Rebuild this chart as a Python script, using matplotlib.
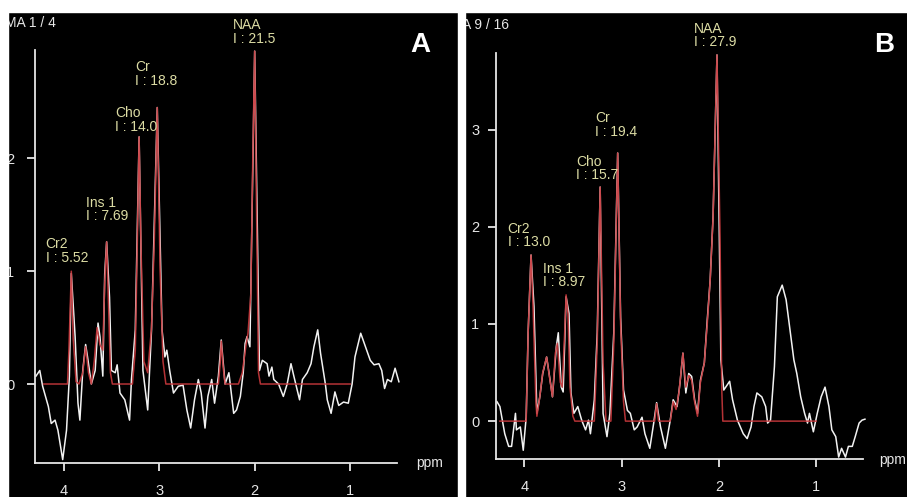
import matplotlib
matplotlib.use("Agg")
from matplotlib import pyplot as plt
from matplotlib.patches import Rectangle

plt.rcParams['font.family'] = ['Liberation Sans', 'DejaVu Sans']

# ---- panel A data (ppm, intensity) ----
a_ppm = [4.29, 4.25, 4.22, 4.16, 4.13, 4.09, 4.06, 4.01, 3.97, 3.94, 3.92, 3.88, 3.85, 3.83, 3.80,
         3.77, 3.75, 3.71, 3.67, 3.64, 3.62, 3.59, 3.57, 3.55, 3.52, 3.50, 3.46, 3.44, 3.41, 3.36,
         3.31, 3.29, 3.25, 3.21, 3.17, 3.12, 3.08, 3.02, 2.97, 2.94, 2.92, 2.89, 2.85, 2.80, 2.75,
         2.71, 2.67, 2.63, 2.59, 2.56, 2.52, 2.49, 2.45, 2.42, 2.38, 2.35, 2.31, 2.27, 2.22, 2.19,
         2.15, 2.12, 2.10, 2.08, 2.05, 2.00, 1.95, 1.92, 1.87, 1.85, 1.82, 1.80, 1.75, 1.70, 1.66,
         1.62, 1.59, 1.53, 1.50, 1.45, 1.41, 1.38, 1.34, 1.31, 1.26, 1.24, 1.20, 1.16, 1.12, 1.07,
         1.02, 0.98, 0.95, 0.89, 0.84, 0.79, 0.75, 0.70, 0.67, 0.64, 0.61, 0.57, 0.53, 0.49]
a_obs = [0.07, 0.12, -0.02, -0.20, -0.35, -0.32, -0.41, -0.67, -0.41, 0.07, 0.98, 0.42, -0.17, -0.32, 0.12,
         0.35, 0.24, 0.0, 0.12, 0.54, 0.42, 0.07, 0.98, 1.26, 0.77, 0.12, 0.10, 0.17, -0.08, -0.14,
         -0.32, 0.04, 0.48, 2.19, 0.12, -0.23, 0.48, 2.45, 0.48, 0.24, 0.30, 0.12, -0.08, -0.02, -0.01,
         -0.23, -0.39, -0.14, 0.04, -0.08, -0.39, -0.11, 0.04, -0.17, 0.07, 0.39, 0.0, 0.10, -0.26, -0.23,
         -0.11, 0.10, 0.36, 0.42, 0.33, 2.95, 0.12, 0.21, 0.18, 0.07, 0.15, 0.04, 0.0, -0.11, 0.0,
         0.18, 0.07, -0.14, 0.04, 0.10, 0.18, 0.33, 0.48, 0.27, 0.0, -0.14, -0.26, -0.07, -0.19, -0.16,
         -0.17, 0.0, 0.24, 0.45, 0.33, 0.21, 0.17, 0.18, 0.12, -0.04, 0.04, 0.02, 0.14, 0.02]
a_fit_ppm = [4.21, 3.96, 3.945, 3.92, 3.90, 3.87, 3.84, 3.80, 3.77, 3.74, 3.71, 3.68, 3.65, 3.62, 3.59,
             3.57, 3.55, 3.53, 3.51, 3.49, 3.28, 3.25, 3.23, 3.21, 3.19, 3.16, 3.12, 3.08, 3.05, 3.02,
             2.99, 2.96, 2.93, 2.38, 2.36, 2.35, 2.33, 2.31, 2.17, 2.13, 2.09, 2.07, 2.04, 2.02, 2.00,
             1.98, 1.96, 1.94, 1.00]
a_fit = [0.0, 0.0, 0.3, 1.0, 0.4, 0.02, 0.0, 0.1, 0.33, 0.1, 0.0, 0.2, 0.5, 0.35, 0.3,
         0.9, 1.26, 0.7, 0.1, 0.0, 0.0, 0.3, 1.2, 2.19, 1.2, 0.2, 0.1, 0.5, 1.3, 2.45,
         1.0, 0.2, 0.0, 0.0, 0.2, 0.38, 0.15, 0.0, 0.0, 0.1, 0.35, 0.45, 0.8, 2.0, 2.95,
         1.5, 0.1, 0.0, 0.0]

# ---- panel B data ----
b_ppm = [4.28, 4.25, 4.20, 4.16, 4.13, 4.09, 4.08, 4.04, 4.01, 3.98, 3.96, 3.93, 3.90, 3.87, 3.84,
         3.81, 3.77, 3.74, 3.71, 3.67, 3.65, 3.62, 3.60, 3.57, 3.54, 3.52, 3.49, 3.45, 3.41, 3.37,
         3.34, 3.32, 3.28, 3.25, 3.22, 3.19, 3.15, 3.12, 3.08, 3.04, 3.01, 2.98, 2.94, 2.91, 2.87,
         2.84, 2.79, 2.76, 2.71, 2.67, 2.64, 2.60, 2.55, 2.50, 2.47, 2.43, 2.40, 2.37, 2.34, 2.31,
         2.28, 2.25, 2.22, 2.19, 2.15, 2.12, 2.09, 2.06, 2.02, 1.98, 1.95, 1.93, 1.89, 1.86, 1.81,
         1.75, 1.71, 1.67, 1.64, 1.61, 1.56, 1.52, 1.50, 1.47, 1.43, 1.40, 1.35, 1.31, 1.27, 1.23,
         1.20, 1.16, 1.12, 1.09, 1.07, 1.03, 0.99, 0.95, 0.91, 0.87, 0.84, 0.80, 0.77, 0.74, 0.70,
         0.67, 0.63, 0.60, 0.56, 0.53, 0.50]
b_obs = [0.20, 0.15, -0.13, -0.26, -0.26, 0.08, -0.09, -0.06, -0.30, 0.04, 0.91, 1.71, 1.18, 0.08, 0.25,
         0.49, 0.66, 0.46, 0.25, 0.77, 0.91, 0.35, 0.30, 1.28, 1.11, 0.29, 0.08, 0.15, 0.01, -0.09,
         0.01, -0.13, 0.22, 0.91, 2.41, 0.08, -0.16, 0.08, 0.91, 2.76, 1.07, 0.32, 0.11, 0.08, -0.09,
         -0.06, 0.04, -0.13, -0.28, -0.02, 0.19, -0.06, -0.28, 0.01, 0.22, 0.15, 0.39, 0.70, 0.29, 0.49,
         0.46, 0.22, 0.08, 0.42, 0.60, 1.04, 1.45, 2.11, 3.77, 0.63, 0.32, 0.35, 0.41, 0.22, 0.01,
         -0.13, -0.18, -0.06, 0.15, 0.29, 0.25, 0.15, -0.02, 0.01, 0.56, 1.28, 1.40, 1.25, 0.94, 0.63,
         0.49, 0.25, 0.08, -0.02, 0.08, -0.11, 0.08, 0.25, 0.35, 0.15, -0.09, -0.16, -0.37, -0.28, -0.37,
         -0.26, -0.26, -0.16, -0.02, 0.01, 0.02]
b_fit_ppm = [4.25, 3.98, 3.96, 3.93, 3.91, 3.88, 3.87, 3.84, 3.81, 3.77, 3.74, 3.71, 3.68, 3.66, 3.63,
             3.61, 3.585, 3.57, 3.55, 3.53, 3.50, 3.48, 3.28, 3.25, 3.22, 3.19, 3.16, 3.11, 3.08, 3.04,
             3.01, 2.98, 2.96, 2.66, 2.64, 2.62, 2.50, 2.47, 2.44, 2.41, 2.37, 2.34, 2.31, 2.28, 2.25,
             2.22, 2.19, 2.15, 2.12, 2.09, 2.06, 2.02, 1.99, 1.97, 1.96, 1.00]
b_fit = [0.0, 0.0, 0.9, 1.71, 1.2, 0.2, 0.05, 0.25, 0.5, 0.66, 0.45, 0.25, 0.7, 0.8, 0.4,
         0.35, 0.9, 1.30, 1.1, 0.35, 0.05, 0.0, 0.0, 0.8, 2.41, 0.6, 0.0, 0.0, 0.8, 2.76,
         1.0, 0.2, 0.0, 0.0, 0.18, 0.0, 0.0, 0.2, 0.12, 0.3, 0.70, 0.35, 0.47, 0.42, 0.2,
         0.05, 0.4, 0.6, 1.0, 1.45, 2.1, 3.77, 2.0, 0.3, 0.0, 0.0]

a_labels = [("NAA\nI : 21.5", 2.23, 3.24), ("Cr\nI : 18.8", 3.255, 2.87), ("Cho\nI : 14.0", 3.465, 2.46),
            ("Ins 1\nI : 7.69", 3.77, 1.67), ("Cr2\nI : 5.52", 4.19, 1.30)]
b_labels = [("NAA\nI : 27.9", 2.26, 4.11), ("Cr\nI : 19.4", 3.27, 3.19), ("Cho\nI : 15.7", 3.47, 2.74),
            ("Cr2\nI : 13.0", 4.17, 2.05), ("Ins 1\nI : 8.97", 3.81, 1.64)]

W, H = 907, 497
fig = plt.figure(figsize=(W / 100, H / 100), dpi=100)
fig.patch.set_facecolor("white")

# black screenshot backgrounds
fig.patches.append(Rectangle((8 / W, 0), 450 / W, 1, transform=fig.transFigure, color="black", zorder=-5))
fig.patches.append(Rectangle((465 / W, 0), 442 / W, 1, transform=fig.transFigure, color="black", zorder=-5))


def make_panel(rect, xlim, ylim, yticks, ypad, xpad):
    ax = fig.add_axes(rect)
    ax.set_facecolor("none")
    ax.set_xlim(xlim)
    ax.set_ylim(ylim)
    for s in ["top", "right"]:
        ax.spines[s].set_visible(False)
    for s in ["left", "bottom"]:
        ax.spines[s].set_color("#e6e6e6")
        ax.spines[s].set_linewidth(1.3)
    ax.set_xticks([4, 3, 2, 1])
    ax.set_yticks(yticks)
    ax.tick_params(axis="both", colors="#e6e6e6", direction="out", length=6, width=1.3, labelsize=10.5)
    ax.tick_params(axis="y", pad=ypad)
    ax.tick_params(axis="x", pad=xpad)
    return ax


axA = make_panel([35 / W, 34 / H, 362 / W, 413 / H], (4.30, 0.51), (-0.70, 2.96), [0, 1, 2], 9, 9)
axB = make_panel([496 / W, 38 / H, 367 / W, 406 / H], (4.29, 0.52), (-0.39, 3.79), [0, 1, 2, 3], 6, 9)

for ax, ppm, obs, fppm, fit, labels in [(axA, a_ppm, a_obs, a_fit_ppm, a_fit, a_labels),
                                        (axB, b_ppm, b_obs, b_fit_ppm, b_fit, b_labels)]:
    ax.plot(ppm, obs, color="#f2f2f2", lw=1.1, clip_on=False)
    ax.plot(fppm, fit, color="#c8383c", lw=1.1, clip_on=False, alpha=0.9)
    for txt, x, y in labels:
        ax.text(x, y, txt, color="#dcdca4", fontsize=10, ha="left", va="top",
                linespacing=0.95, clip_on=False)

# panel letters and header text
fig.text(420 / W, 1 - 45 / H, "A", color="white", fontsize=20, fontweight="bold", ha="center", va="center")
fig.text(884 / W, 1 - 45 / H, "B", color="white", fontsize=20, fontweight="bold", ha="center", va="center")
fig.text(5 / W, 1 - 23 / H, "MA 1 / 4", color="#e6e6e6", fontsize=10, ha="left", va="center")
fig.text(462 / W, 1 - 25 / H, "A 9 / 16", color="#e6e6e6", fontsize=10, ha="left", va="center")
fig.text(430 / W, 1 - 463 / H, "ppm", color="#e6e6e6", fontsize=10, ha="center", va="center")
fig.text(879 / W, 1 - 460 / H, "ppm", color="#e6e6e6", fontsize=10, ha="left", va="center")

# white screenshot margins drawn on top
fig.patches.append(Rectangle((0, 0), 8 / W, 1, transform=fig.transFigure, color="white", zorder=10))
fig.patches.append(Rectangle((0, 1 - 12 / H), 1, 12 / H, transform=fig.transFigure, color="white", zorder=10))
fig.patches.append(Rectangle((458 / W, 0), 7 / W, 1, transform=fig.transFigure, color="white", zorder=10))

fig.savefig("out.png", dpi=100)
